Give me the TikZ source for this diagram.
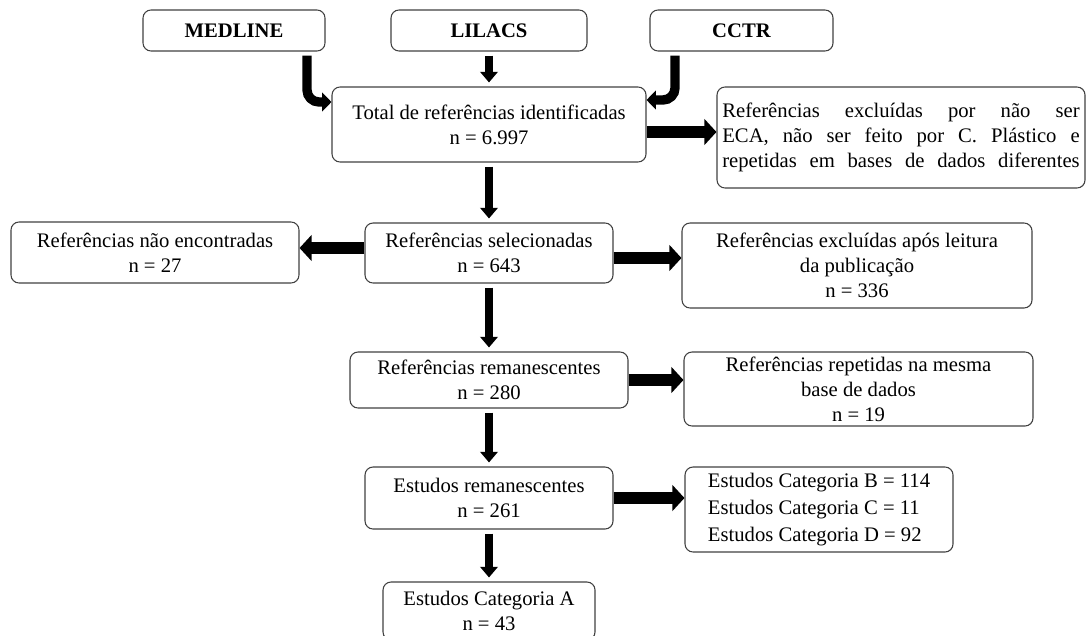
\documentclass[tikz,border=0pt]{standalone}
\usepackage{fontspec}
\setmainfont{Liberation Serif}
\usetikzlibrary{arrows.meta}
\newcommand{\jline}[1]{\makebox[268pt][s]{#1}}

\begin{document}
\begin{tikzpicture}[x=0.75pt, y=-0.75pt,
                    box size/.style 2 args={minimum width=#1*0.75pt, minimum height=#2*0.75pt},
                    box node/.style={draw=black!75, line width=0.8pt, rounded corners=6pt, inner sep=0pt,
                                     align=center, font=\fontsize{15.5}{18.75}\selectfont},
                    src node/.style={box node, font=\fontsize{15.5}{18.75}\selectfont\bfseries},
                    side arrow/.style={line width=9pt, -{Triangle[width=19pt,length=9pt]}},
                    down arrow/.style={line width=5.5pt, -{Triangle[width=13pt,length=8pt]}, shorten <=3pt, shorten >=3pt},
                    bend arrow/.style={line width=7pt, rounded corners=9pt, -{Triangle[width=14pt,length=7pt]}, shorten <=3pt}]

  \useasboundingbox (0,0) rectangle (1087,635);

  \node[src node, box size={182}{41}] (medline) at (234,30.5) {MEDLINE};
  \node[src node, box size={196}{41}] (lilacs) at (489,30.5) {LILACS};
  \node[src node, box size={183}{41}] (cctr) at (741.5,30.5) {CCTR};
  \node[box node, box size={314}{75}] (total) at (489,124.5) {Total de referências identificadas\\n = 6.997};
  \node[box node, box size={368}{101}] (excl1) at (901,137.5) {\jline{Referências excluídas por não ser}\\
    \jline{ECA, não ser feito por C. Plástico e}\\\jline{repetidas em bases de dados diferentes}};
  \node[box node, box size={288}{61}] (notfound) at (155,252.5) {Referências não encontradas\\n = 27};
  \node[box node, box size={248}{60}] (sel) at (489,253) {Referências selecionadas\\n = 643};
  \node[box node, box size={350}{85}] (excl2) at (857,265.5) {Referências excluídas após leitura\\da publicação\\n = 336};
  \node[box node, box size={278}{56}] (rem) at (489,380) {Referências remanescentes\\n = 280};
  \node[box node, box size={349}{74}] (rep) at (858.5,389) {Referências repetidas na mesma\\base de dados\\n = 19};
  \node[box node, box size={248}{62}] (est) at (489,498) {Estudos remanescentes\\n = 261};
  \node[box node, box size={268}{85}, align=left, font=\fontsize{15.5}{20}\selectfont] (cat) at (819,509.5)
    {Estudos Categoria B = 114\\Estudos Categoria C = 11\\Estudos Categoria D = 92};
  \node[box node, box size={212}{58}] (catA) at (489,611) {Estudos Categoria A\\n = 43};

  \draw[bend arrow] (medline.south -| 307,0) |- (total.west |- 0,102);
  \draw[bend arrow] (cctr.south -| 675,0) |- (total.east |- 0,100);

  \path[down arrow]
  (lilacs) edge (total)
  (total) edge (sel)
  (sel) edge (rem)
  (rem) edge (est)
  (est) edge (catA);

  \path[side arrow]
  (total.east |- 0,132) edge (excl1.west |- 0,132)
  (sel.west |- 0,248) edge (notfound.east |- 0,248)
  (sel.east |- 0,258) edge (excl2.west |- 0,258)
  (rem.east) edge (rep.west |- rem.east)
  (est.east) edge (cat.west |- est.east);
\end{tikzpicture}
\end{document}
